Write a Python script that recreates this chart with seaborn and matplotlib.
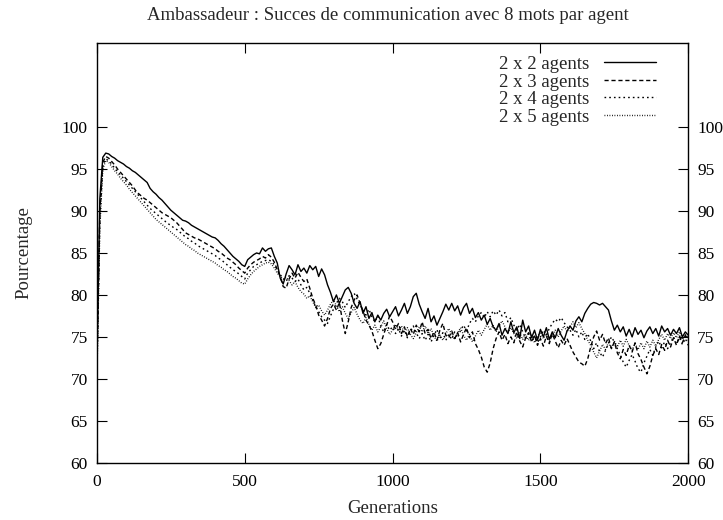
import numpy as np
import pandas as pd
import matplotlib
matplotlib.use("Agg")
import matplotlib.pyplot as plt
import seaborn as sns

# Generation index, sampled every 10 generations
generations = np.arange(0, 2001, 10)

labels = ["2 x 2 agents", "2 x 3 agents", "2 x 4 agents", "2 x 5 agents"]

succes_2x2 = [
    72.0, 91.5, 96.4, 96.9, 96.8, 96.5, 96.3, 96.0, 95.8, 95.6,
    95.3, 95.1, 94.8, 94.6, 94.3, 94.0, 93.7, 93.4, 92.7, 92.3,
    92.0, 91.6, 91.3, 90.9, 90.5, 90.1, 89.8, 89.5, 89.2, 88.9,
    88.8, 88.6, 88.3, 88.1, 87.9, 87.7, 87.5, 87.3, 87.1, 86.9,
    86.8, 86.5, 86.1, 85.8, 85.4, 85.0, 84.6, 84.3, 84.0, 83.6,
    83.4, 84.2, 84.5, 84.8, 85.0, 84.9, 85.6, 85.2, 85.5, 85.6,
    84.6, 83.8, 82.0, 81.3, 82.5, 83.5, 83.0, 82.4, 83.6, 82.8,
    83.2, 82.6, 83.5, 83.0, 83.4, 82.2, 83.1, 82.4, 81.2, 80.3,
    79.2, 80.0, 79.0, 79.8, 80.6, 80.9, 80.2, 79.0, 78.4, 79.2,
    77.8, 78.6, 77.2, 77.9, 76.8, 77.6, 77.0, 77.8, 78.3, 77.4,
    78.0, 78.6, 77.5, 78.2, 79.0, 77.8, 78.6, 79.8, 80.2, 78.9,
    78.0, 77.2, 78.4, 76.8, 77.5, 76.4, 77.2, 78.0, 78.9, 78.2,
    79.0, 78.1, 78.7, 77.6, 78.5, 79.0, 77.8, 78.4, 77.3, 77.9,
    77.0, 77.6, 76.5, 77.2, 76.2, 75.8, 76.6, 75.2, 76.0, 75.4,
    76.8, 75.5, 76.2, 74.8, 77.0, 75.6, 76.3, 74.9, 75.8, 74.6,
    75.9, 75.0, 76.1, 74.7, 75.6, 74.9, 76.0, 75.2, 74.6, 75.7,
    76.3, 75.8, 76.9, 77.4, 76.8, 77.8, 78.4, 78.9, 79.1, 79.0,
    78.8, 79.0, 78.6, 78.2, 76.9, 75.8, 76.4, 75.6, 76.2, 75.1,
    75.9, 75.0, 76.1, 75.3, 75.8, 74.9, 75.7, 76.2, 75.4, 76.0,
    75.1, 76.3, 75.6, 76.0, 75.2, 75.9, 75.4, 76.1, 75.0, 75.6,
    75.2,
]

succes_2x3 = [
    71.0, 90.0, 95.8, 96.5, 96.3, 95.9, 95.5, 95.0, 94.6, 94.2,
    93.8, 93.4, 93.0, 92.5, 92.1, 91.8, 91.5, 91.3, 91.0, 90.7,
    90.4, 90.1, 89.8, 89.6, 89.4, 89.2, 88.9, 88.6, 88.2, 87.8,
    87.4, 87.2, 87.0, 86.8, 86.7, 86.5, 86.3, 86.1, 85.9, 85.7,
    85.5, 85.2, 85.0, 84.7, 84.4, 84.2, 83.9, 83.6, 83.2, 82.9,
    82.6, 83.2, 83.6, 83.9, 84.1, 84.3, 84.6, 84.4, 84.8, 84.5,
    83.9, 83.0, 82.2, 81.0, 80.8, 81.9, 82.6, 82.0, 82.7, 82.1,
    81.6, 81.9, 80.8, 79.6, 78.8, 77.6, 77.0, 76.3, 77.2, 78.4,
    78.9, 78.2, 79.1, 77.0, 75.4, 76.8, 78.5, 79.4, 80.0, 79.0,
    78.1, 77.0, 76.4, 75.7, 74.6, 73.6, 74.2, 75.3, 76.4, 77.5,
    76.8, 75.9, 76.6, 75.4, 76.2, 75.0, 76.0, 75.3, 76.4, 75.6,
    76.8, 75.4, 75.9, 74.8, 75.6, 74.6, 75.8, 76.6, 75.2, 74.9,
    75.7, 74.8, 75.5, 74.4, 75.3, 76.1, 74.9, 75.6, 74.2, 73.5,
    72.6, 71.4, 70.8, 71.9, 73.6, 74.8, 75.6, 74.6, 75.3, 74.2,
    75.0, 74.3, 75.6, 74.5, 73.8, 74.9, 75.5, 74.4, 75.2, 74.0,
    74.8, 73.9, 75.1, 74.2, 75.4, 74.5, 73.7, 74.6, 74.0, 74.8,
    74.0, 73.2, 72.6, 72.0, 71.8, 71.5, 72.4, 73.8, 75.0, 75.7,
    74.6, 75.3, 74.2, 74.9, 73.6, 74.4, 73.1, 72.4, 73.5, 72.8,
    74.0, 73.2, 74.3, 73.0, 72.3, 71.4, 70.6, 71.5, 72.8, 73.6,
    72.9, 74.1, 73.4, 74.6, 73.8, 74.9, 74.0, 75.1, 74.3, 75.2,
    74.6,
]

succes_2x4 = [
    70.5, 89.0, 95.4, 96.2, 96.0, 95.6, 95.1, 94.7, 94.3, 93.9,
    93.5, 93.1, 92.7, 92.3, 91.9, 91.5, 91.1, 90.7, 90.3, 90.0,
    89.7, 89.4, 89.1, 88.8, 88.5, 88.3, 88.0, 87.8, 87.5, 87.2,
    86.9, 86.7, 86.4, 86.2, 85.9, 85.7, 85.5, 85.3, 85.1, 84.9,
    84.7, 84.4, 84.2, 83.9, 83.6, 83.3, 83.0, 82.8, 82.5, 82.2,
    81.9, 82.6, 83.0, 83.4, 83.6, 83.8, 84.0, 84.1, 84.2, 84.0,
    83.6, 83.0, 82.4, 82.0, 81.6, 82.3, 82.0, 81.6, 81.9, 81.2,
    80.6, 80.9, 80.2, 79.4, 78.6, 78.0, 77.4, 77.0, 76.6, 77.5,
    78.3, 79.0, 79.6, 79.2, 78.5, 79.2, 79.8, 80.2, 79.5, 78.8,
    78.2, 77.6, 78.3, 77.4, 76.8, 77.5, 76.3, 75.6, 76.5, 75.8,
    76.2, 75.4, 76.0, 75.1, 75.8, 74.9, 75.6, 76.3, 75.5, 74.8,
    75.4, 74.6, 75.3, 74.4, 75.2, 75.9, 74.8, 75.5, 74.6, 75.3,
    74.7, 75.6, 74.9, 75.8, 76.4, 75.7, 76.6, 77.2, 76.8, 77.5,
    77.9, 77.3, 78.0, 77.4, 78.1, 77.6, 78.2, 77.5, 77.9, 76.8,
    77.3, 76.4, 75.8, 76.5, 75.6, 74.8, 75.4, 74.5, 75.1, 74.3,
    75.0, 75.8, 75.2, 76.0, 76.6, 77.1, 76.8, 77.3, 76.7, 76.2,
    75.8, 75.2, 75.9, 75.0, 75.6, 74.7, 75.4, 74.5, 73.6, 74.3,
    73.2, 72.6, 73.4, 74.2, 75.0, 74.4, 73.6, 72.8, 72.0, 71.4,
    72.2, 72.9, 72.1, 71.2, 70.8, 71.9, 72.7, 73.5, 72.8, 73.8,
    74.5, 73.7, 74.4, 73.6, 74.3, 75.0, 74.2, 74.9, 74.1, 74.8,
    74.0,
]

succes_2x5 = [
    70.0, 88.0, 95.0, 96.0, 95.8, 95.3, 94.8, 94.4, 93.9, 93.5,
    93.1, 92.6, 92.2, 91.8, 91.4, 91.0, 90.6, 90.2, 89.8, 89.4,
    89.0, 88.7, 88.4, 88.1, 87.8, 87.5, 87.2, 86.9, 86.6, 86.3,
    86.0, 85.8, 85.5, 85.3, 85.0, 84.8, 84.6, 84.4, 84.2, 84.0,
    83.8, 83.5, 83.3, 83.0, 82.8, 82.5, 82.2, 82.0, 81.7, 81.4,
    81.3, 81.9, 82.4, 82.8, 83.1, 83.4, 83.6, 83.8, 83.9, 83.7,
    83.2, 82.6, 82.2, 81.9, 82.1, 81.7, 81.2, 81.6, 80.9, 80.4,
    80.1, 79.6, 79.9, 79.2, 78.5, 78.8, 78.1, 77.6, 78.2, 78.9,
    79.4, 78.7, 78.0, 78.6, 77.8, 77.2, 77.9, 78.5, 77.7, 77.0,
    76.6, 77.3, 76.5, 75.8, 76.4, 75.6, 76.2, 76.9, 76.0, 75.3,
    75.8, 76.5, 75.7, 76.3, 75.5, 76.1, 75.3, 74.8, 75.5, 76.2,
    75.6, 76.3, 75.4, 76.0, 75.1, 74.5, 75.2, 74.6, 75.4, 76.0,
    75.3, 74.7, 75.5, 76.1, 75.2, 74.6, 75.3, 74.4, 75.1, 75.8,
    75.2, 75.9, 76.5, 75.8, 76.4, 75.6, 76.3, 76.9, 76.2, 75.5,
    76.1, 75.4, 74.8, 75.5, 74.7, 75.3, 74.6, 75.2, 74.3, 75.0,
    75.6, 74.8, 75.4, 74.5, 75.1, 75.8, 75.0, 75.7, 76.3, 75.6,
    76.2, 76.8, 76.1, 76.7, 76.0, 75.4, 74.6, 74.0, 73.2, 72.5,
    73.3, 74.1, 73.5, 74.3, 73.6, 74.5, 73.8, 74.6, 73.9, 74.7,
    74.0, 73.4, 74.2, 73.5, 74.3, 73.6, 74.5, 73.8, 74.6, 73.9,
    74.7, 75.3, 74.6, 75.4, 74.8, 75.5, 74.9, 75.6, 74.7, 75.3,
    74.9,
]

series = [succes_2x2, succes_2x3, succes_2x4, succes_2x5]
line_styles = ["-", (0, (3.0, 2.0)), (0, (1.2, 2.2)), (0, (0.6, 1.2))]

sns.set_style("ticks")
plt.rcParams["font.family"] = ["Liberation Serif", "DejaVu Serif"]

text_size = 13.5
tick_size = 12.5

fig = plt.figure(figsize=(7.23, 5.2), dpi=100)
ax = fig.add_axes([0.134, 0.110, 0.818, 0.807])

for vals, lab, ls in zip(series, labels, line_styles):
    df = pd.DataFrame({"Generations": generations, "Pourcentage": vals})
    sns.lineplot(data=df, x="Generations", y="Pourcentage", ax=ax,
                 color="black", linewidth=1.0, linestyle=ls, label=lab)

ax.set_xlim(0, 2000)
ax.set_ylim(60, 110)
ax.set_xticks([0, 500, 1000, 1500, 2000])
ax.set_yticks([60, 65, 70, 75, 80, 85, 90, 95, 100])

for side in ["left", "right", "top", "bottom"]:
    ax.spines[side].set_visible(True)
    ax.spines[side].set_color("black")
    ax.spines[side].set_linewidth(1.0)

ax.tick_params(axis="both", which="major", direction="in", length=7, width=0.8,
               top=True, right=True, labelsize=tick_size, colors="black")
ax.tick_params(axis="y", labelright=True, pad=6.5)
ax.tick_params(axis="x", pad=8)

ax.set_xlabel("Generations", fontsize=text_size, labelpad=7.5)
ax.set_ylabel("Pourcentage", fontsize=text_size, labelpad=21)
fig.text(0.536, 0.971, "Ambassadeur : Succes de communication avec 8 mots par agent",
         ha="center", va="center", fontsize=text_size)

leg = ax.legend(loc="upper right", bbox_to_anchor=(0.961, 0.992), frameon=False,
                markerfirst=False, handlelength=2.75, handletextpad=0.8,
                labelspacing=0.02, borderpad=0.0, fontsize=text_size)
for line in leg.get_lines():
    line.set_linewidth(1.0)

fig.savefig("out.png", dpi=100)
